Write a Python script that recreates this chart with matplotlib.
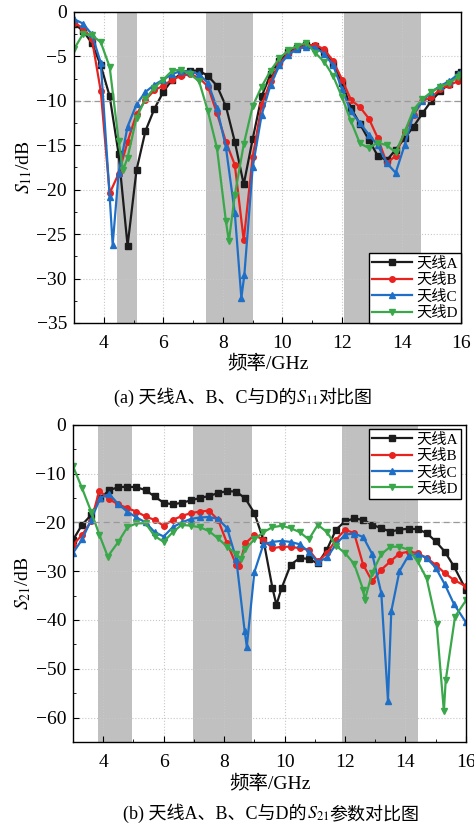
import matplotlib
matplotlib.use('Agg')
from matplotlib import pyplot as plt
from matplotlib.ticker import MultipleLocator

plt.rcParams['font.family'] = ['Liberation Serif', 'Noto Sans CJK SC']
plt.rcParams['mathtext.fontset'] = 'stix'
plt.rcParams['axes.unicode_minus'] = True

# ---------- S11 data ----------
s11_fa = [3.0, 3.3, 3.6, 3.9, 4.2, 4.5, 4.8, 5.1, 5.4, 5.7, 6.0, 6.3, 6.6, 6.9, 7.2, 7.5, 7.8, 8.1,
          8.4, 8.7, 9.0, 9.3, 9.6, 9.9, 10.2, 10.5, 10.8, 11.1, 11.4, 11.7, 12.0, 12.3, 12.6, 12.9,
          13.2, 13.5, 13.8, 14.1, 14.4, 14.7, 15.0, 15.3, 15.6, 15.9, 16.0]
s11_a = [-1.3, -2.1, -3.5, -6.0, -9.5, -16.0, -26.3, -17.8, -13.4, -10.9, -9.0, -7.6, -7.0, -6.6,
         -6.6, -7.2, -8.3, -10.6, -14.6, -19.4, -14.3, -9.5, -7.0, -5.5, -4.5, -4.0, -3.7, -3.8,
         -4.5, -5.8, -8.0, -10.8, -12.6, -14.4, -16.2, -16.7, -15.5, -14.2, -12.9, -11.4, -10.0,
         -8.9, -8.1, -7.0, -6.8]

s11_fb = [3.0, 3.3, 3.6, 3.9, 4.2, 4.5, 4.8, 5.1, 5.4, 5.7, 6.0, 6.3, 6.6, 6.9, 7.2, 7.5, 7.8, 8.1,
          8.4, 8.7, 9.0, 9.3, 9.6, 9.9, 10.2, 10.5, 10.8, 11.1, 11.4, 11.7, 12.0, 12.3, 12.6, 12.9,
          13.2, 13.5, 13.8, 14.1, 14.4, 14.7, 15.0, 15.3, 15.6, 15.9, 16.0]
s11_b = [-1.2, -1.8, -3.0, -8.9, -20.4, -18.2, -14.6, -11.5, -9.9, -8.8, -8.3, -7.6, -7.2, -7.0,
         -7.4, -8.4, -11.4, -14.6, -17.2, -25.7, -16.3, -10.5, -7.8, -5.8, -4.7, -4.1, -3.8, -3.7,
         -4.2, -5.5, -7.6, -9.9, -10.7, -12.0, -14.2, -17.0, -16.2, -13.5, -11.6, -10.0, -9.6,
         -8.7, -8.2, -7.8, -7.6]

s11_fc = [3.0, 3.3, 3.6, 3.9, 4.2, 4.3, 4.5, 4.8, 5.1, 5.4, 5.7, 6.0, 6.3, 6.6, 6.9, 7.2, 7.5, 7.8,
          8.1, 8.4, 8.62, 8.72, 9.0, 9.3, 9.6, 9.9, 10.2, 10.5, 10.8, 11.1, 11.4, 11.7, 12.0, 12.3,
          12.6, 12.9, 13.2, 13.5, 13.8, 14.1, 14.4, 14.7, 15.0, 15.3, 15.6, 15.9, 16.0]
s11_c = [-0.8, -1.3, -2.5, -5.7, -20.8, -26.2, -18.1, -12.9, -10.4, -9.0, -8.2, -7.6, -7.0, -6.6,
         -6.7, -7.0, -8.0, -10.8, -15.2, -22.6, -32.2, -29.6, -17.5, -11.6, -8.2, -6.0, -4.8,
         -4.2, -3.9, -4.0, -4.7, -6.0, -8.7, -11.2, -12.5, -13.8, -15.0, -17.0, -18.1, -15.0,
         -11.5, -10.0, -9.0, -8.3, -7.8, -7.0, -6.7]

s11_fd = [3.0, 3.3, 3.6, 3.9, 4.2, 4.5, 4.65, 4.8, 5.1, 5.4, 5.7, 6.0, 6.3, 6.6, 6.9, 7.2, 7.5, 7.8,
          8.1, 8.2, 8.4, 8.7, 9.0, 9.3, 9.6, 9.9, 10.2, 10.5, 10.8, 11.1, 11.4, 11.7, 12.0, 12.3,
          12.6, 12.9, 13.2, 13.5, 13.8, 14.1, 14.4, 14.7, 15.0, 15.3, 15.6, 15.9, 16.0]
s11_d = [-4.2, -2.5, -2.6, -3.4, -6.2, -14.5, -17.8, -16.4, -11.9, -9.8, -8.5, -7.6, -6.6, -6.5,
         -7.0, -7.8, -11.2, -15.3, -23.5, -25.8, -20.6, -14.9, -10.6, -8.4, -6.6, -5.2, -4.3,
         -3.8, -3.5, -4.6, -5.6, -7.2, -9.6, -12.3, -14.8, -15.3, -14.7, -15.0, -15.8, -13.5,
         -11.0, -9.8, -9.0, -8.4, -8.0, -7.3, -7.1]

# ---------- S21 data ----------
s21_fa = [3.0, 3.3, 3.6, 3.9, 4.2, 4.5, 4.8, 5.1, 5.4, 5.7, 6.0, 6.3, 6.6, 6.9, 7.2, 7.5, 7.8, 8.1,
          8.4, 8.7, 9.0, 9.3, 9.6, 9.73, 9.9, 10.2, 10.5, 10.8, 11.1, 11.4, 11.7, 12.0, 12.3, 12.6,
          12.9, 13.2, 13.5, 13.8, 14.1, 14.4, 14.7, 15.0, 15.3, 15.6, 16.0]
s21_a = [-23.6, -20.5, -18.5, -15.1, -13.4, -12.8, -12.7, -12.8, -13.4, -14.7, -16.0, -16.3,
         -16.0, -15.5, -15.0, -14.6, -14.0, -13.6, -13.7, -15.1, -18.1, -23.6, -33.5, -36.9,
         -33.5, -28.7, -27.3, -27.5, -28.4, -25.6, -21.5, -19.8, -19.2, -19.5, -20.5, -21.2,
         -21.9, -21.5, -21.3, -21.4, -22.2, -23.9, -26.0, -29.0, -33.8]

s21_fb = [3.0, 3.3, 3.6, 3.87, 4.2, 4.5, 4.8, 5.1, 5.4, 5.7, 6.0, 6.3, 6.6, 6.9, 7.2, 7.5, 7.8, 8.1,
          8.4, 8.5, 8.7, 9.0, 9.3, 9.6, 9.9, 10.2, 10.5, 10.8, 11.1, 11.4, 11.7, 12.0, 12.3, 12.6,
          12.9, 13.2, 13.5, 13.8, 14.1, 14.4, 14.7, 15.0, 15.3, 15.6, 16.0]
s21_b = [-24.6, -22.6, -19.8, -13.5, -15.3, -16.3, -17.1, -17.8, -18.8, -19.5, -20.7, -19.5,
         -18.7, -18.1, -17.8, -17.6, -19.5, -24.3, -28.7, -29.0, -24.3, -22.6, -23.6, -25.3,
         -25.0, -25.0, -25.3, -25.6, -28.0, -26.3, -23.6, -21.5, -22.2, -28.7, -32.1, -29.7,
         -28.0, -26.4, -26.0, -26.3, -27.3, -28.7, -30.4, -31.8, -33.1]

s21_fc = [3.0, 3.3, 3.6, 3.9, 4.2, 4.5, 4.8, 5.1, 5.4, 5.7, 6.0, 6.3, 6.6, 6.9, 7.2, 7.5, 7.8, 8.1,
          8.4, 8.68, 8.75, 9.0, 9.3, 9.6, 9.9, 10.2, 10.5, 10.8, 11.1, 11.4, 11.7, 12.0, 12.3,
          12.6, 12.9, 13.2, 13.42, 13.53, 13.8, 14.1, 14.4, 14.7, 15.0, 15.3, 15.6, 16.0]
s21_c = [-26.3, -23.5, -19.5, -15.0, -14.2, -16.3, -17.8, -19.0, -20.0, -22.0, -22.9, -21.0,
         -20.0, -19.3, -19.0, -18.9, -19.3, -21.2, -27.5, -42.3, -45.5, -30.2, -24.5, -24.0,
         -23.8, -24.0, -24.5, -26.0, -28.2, -27.2, -24.5, -22.5, -22.3, -23.0, -26.5, -34.5,
         -56.5, -38.2, -30.0, -26.8, -26.5, -27.3, -29.3, -32.7, -36.7, -40.5]

s21_fd = [3.0, 3.3, 3.6, 3.87, 4.15, 4.5, 4.8, 5.1, 5.4, 5.7, 6.0, 6.3, 6.6, 6.9, 7.2, 7.5, 7.8,
          8.1, 8.4, 8.55, 8.7, 9.0, 9.3, 9.6, 9.9, 10.2, 10.5, 10.8, 11.1, 11.4, 11.7, 12.0, 12.3,
          12.6, 12.65, 12.9, 13.2, 13.5, 13.8, 14.1, 14.4, 14.7, 15.03, 15.27, 15.33, 15.64, 16.0]
s21_d = [-8.5, -13.0, -17.8, -22.5, -27.0, -24.0, -21.0, -20.2, -20.2, -22.8, -24.0, -22.0,
         -20.5, -20.7, -21.0, -21.8, -23.3, -25.0, -26.5, -27.5, -25.5, -23.5, -22.0, -21.0,
         -20.7, -21.2, -22.0, -23.5, -20.5, -22.0, -24.8, -26.3, -28.5, -33.8, -36.0, -30.3,
         -26.5, -25.0, -25.0, -25.6, -28.0, -31.5, -40.8, -58.7, -52.4, -39.3, -36.0]

labels = ['天线A', '天线B', '天线C', '天线D']
colors = ['#1c1c1c', '#e8231f', '#1f6fc7', '#3aa84a']
markers = ['s', 'o', '^', 'v']

s11_bands = [(4.43, 5.1), (7.43, 9.0), (12.07, 14.65)]
s21_bands = [(3.84, 4.94), (6.96, 8.92), (11.91, 14.4)]

cap_a = ['(a) 天线A、B、C与D的', r'$S_{11}$', '对比图']
cap_b = ['(b) 天线A、B、C与D的', r'$S_{21}$', '参数对比图']

fig = plt.figure(figsize=(4.74, 8.26), dpi=100)
ax1 = fig.add_axes([0.156, 0.609, 0.817, 0.3765])
ax2 = fig.add_axes([0.154, 0.1017, 0.829, 0.3841])


def style_axis(ax, ylo, yminor, ref):
    ax.set_xlim(3, 16)
    ax.set_ylim(ylo, 0)
    ax.xaxis.set_major_locator(MultipleLocator(2))
    ax.xaxis.set_minor_locator(MultipleLocator(1))
    ax.yaxis.set_minor_locator(MultipleLocator(yminor))
    ax.tick_params(which='both', direction='in', labelsize=14, top=False, right=False)
    ax.tick_params(which='major', length=4)
    ax.tick_params(which='minor', length=2.5)
    ax.tick_params(axis='x', which='major', pad=9)
    ax.tick_params(axis='y', which='major', pad=5)
    ax.grid(True, which='major', linestyle=':', color='#c8c8c8', linewidth=0.8)
    ax.axhline(ref, color='#999999', linestyle='--', linewidth=0.9, dashes=(5, 3))
    ax.set_xlabel('频率/GHz', fontsize=14, labelpad=2)
    for sp in ax.spines.values():
        sp.set_linewidth(1.0)


def caption(parts, xc, y):
    # place text pieces side by side on one baseline, centred at xc (pixels)
    texts = [fig.text(0, y, p, ha='left', va='baseline', fontsize=13,
                      transform=None) for p in parts]
    fig.canvas.draw()
    r = fig.canvas.get_renderer()
    widths = [t.get_window_extent(r).width for t in texts]
    x = xc - sum(widths) / 2
    for t, w in zip(texts, widths):
        t.set_position((x, y))
        x += w


# (a) S11
for lo, hi in s11_bands:
    ax1.axvspan(lo, hi, color='#c0c0c0', zorder=0, linewidth=0)
series11 = [(s11_fa, s11_a), (s11_fb, s11_b), (s11_fc, s11_c), (s11_fd, s11_d)]
for (f, v), lab, c, m in zip(series11, labels, colors, markers):
    ax1.plot(f, v, color=c, marker=m, markersize=4, linewidth=1.6, label=lab)
style_axis(ax1, -35, 2.5, -10)
ax1.yaxis.set_major_locator(MultipleLocator(5))
ax1.set_ylabel(r'$S_{11}$/dB', fontsize=14, labelpad=2)
ax1.legend(loc='lower right', fontsize=11, frameon=True, fancybox=False, edgecolor='black',
           framealpha=1, borderpad=0.2, labelspacing=0.15, handlelength=2.6,
           handletextpad=0.3, borderaxespad=0.0)

# (b) S21
for lo, hi in s21_bands:
    ax2.axvspan(lo, hi, color='#c0c0c0', zorder=0, linewidth=0)
series21 = [(s21_fa, s21_a), (s21_fb, s21_b), (s21_fc, s21_c), (s21_fd, s21_d)]
for (f, v), lab, c, m in zip(series21, labels, colors, markers):
    ax2.plot(f, v, color=c, marker=m, markersize=4, linewidth=1.6, label=lab)
style_axis(ax2, -65, 5, -20)
ax2.yaxis.set_major_locator(MultipleLocator(10))
ax2.set_ylabel(r'$S_{21}$/dB', fontsize=14, labelpad=2)
ax2.legend(loc='upper right', fontsize=11, frameon=True, fancybox=False, edgecolor='black',
           framealpha=1, borderpad=0.2, labelspacing=0.15, handlelength=2.6,
           handletextpad=0.3, borderaxespad=0.3)

caption(cap_a, 243, 826 - 403)
caption(cap_b, 271, 826 - 819)

fig.savefig('out.png', dpi=100)
